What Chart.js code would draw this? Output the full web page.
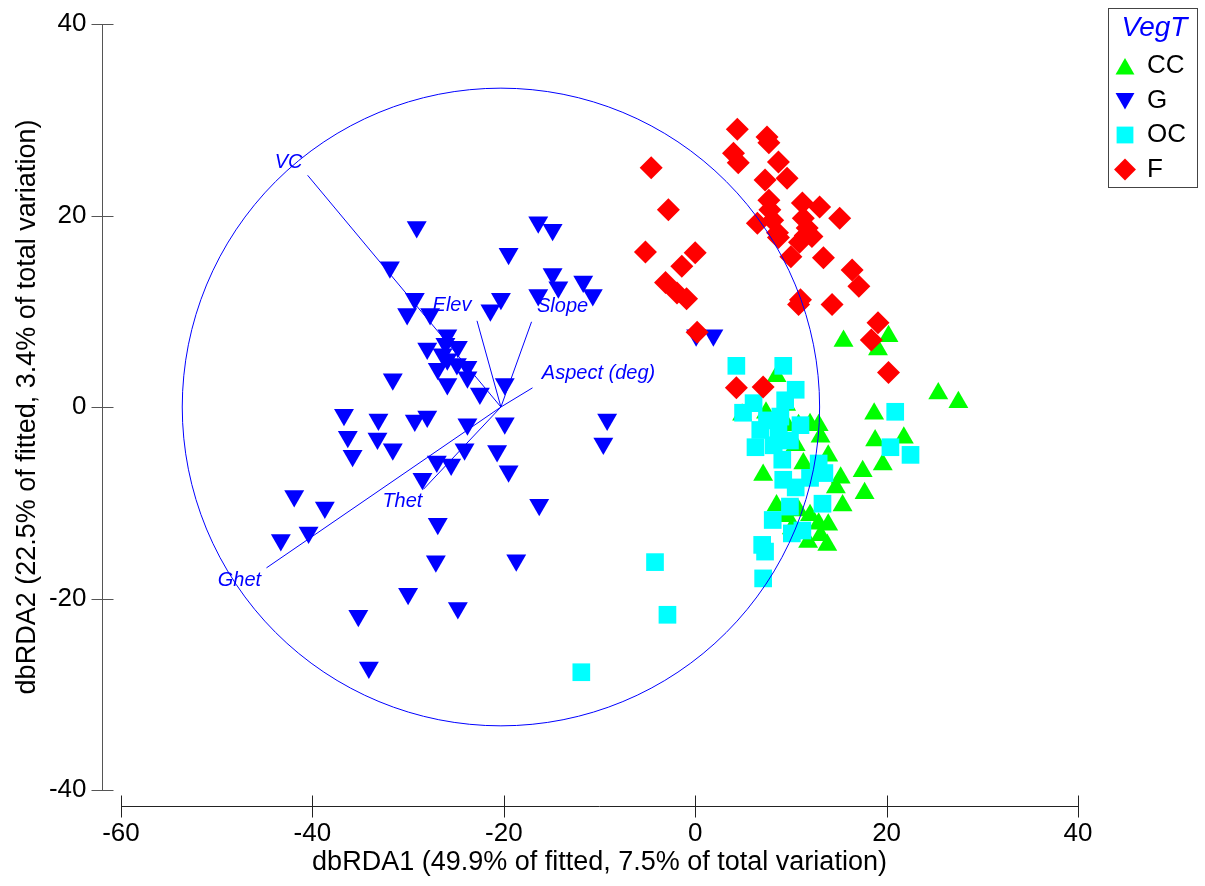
<!DOCTYPE html>
<html>
<head>
<meta charset="utf-8">
<title>dbRDA VegT</title>
<script src="https://cdn.jsdelivr.net/npm/chart.js@4.4.1/dist/chart.umd.min.js"></script>
<style>
  html, body { margin: 0; padding: 0; background: #fff; }
  #chart { display: block; }
</style>
</head>
<body>
<canvas id="chart" width="1205" height="886"></canvas>
<script>
'use strict';

// groups of VegT, in legend order
const groupNames = ['CC', 'G', 'OC', 'F'];

const ccX = [15.5, 20.2, 19.1, 8.5, 9.5, 4.9, 7.4, 9.6, 10.8, 12.0, 12.9, 8.9, 13.1, 10.5, 13.9, 18.7, 18.8, 21.8, 19.6, 17.5,
    17.7, 25.4, 27.5, 7.1, 14.7, 11.8, 15.4, 8.5, 9.6, 10.8, 12.0, 13.9, 12.9, 11.8, 13.8, 11.3, 10.1, 13.1, 15.2];
const ccY = [6.9, 7.4, 6.0, 3.2, 0.2, -0.8, -0.6, -1.9, -1.9, -1.8, -1.9, -2.5, -3.1, -4.0, -5.1, -0.7, -3.5, -3.2, -6.0, -6.7,
    -9.0, 1.4, 0.5, -7.1, -8.4, -7.6, -10.3, -10.3, -11.4, -10.8, -11.3, -12.3, -12.2, -14.1, -14.4, -5.9, -12.7, -13.4, -7.4];

const gX = [-29.1, -16.4, -14.9, -19.5, -31.9, -14.9, -14.3, -11.7, -10.7, -29.3, -30.1, -27.7, -20.3, -21.4, -16.4, -25.9,
    -26.1, -24.8, -28.0, -26.4, -25.9, -23.8, -24.9, -26.9, -23.8, -25.9, -22.5, -31.6, -19.9, -36.7, -33.1, -29.3, -28.0,
    -23.8, -19.9, -9.2, -36.3, -33.2, -31.6, -35.8, -24.1, -20.7, -9.6, -27.0, -25.5, -19.5, -28.5, -41.9, -38.7, -16.3,
    -26.9, -43.3, -40.4, -27.1, -18.7, -30.0, -24.8, -35.2, -34.1, 0.1, 1.9];
const gY = [18.8, 19.3, 18.5, 16.0, 14.6, 13.9, 12.5, 13.1, 11.7, 11.3, 9.7, 9.7, 11.3, 10.1, 11.7, 7.5, 6.6, 6.3, 6.1, 5.5,
    5.0, 4.2, 4.5, 4.0, 3.1, 2.4, 1.4, 2.9, 2.4, -0.8, -1.3, -1.4, -1.0, -1.8, -1.7, -1.3, -3.1, -3.3, -4.4, -5.1, -4.4, -4.6,
    -3.8, -5.7, -6.0, -6.7, -7.5, -9.3, -10.5, -10.2, -12.2, -13.9, -13.1, -16.1, -16.0, -19.5, -21.0, -21.8, -27.2, 7.5, 7.5];

const ocX = [4.3, 9.2, 10.5, 9.4, 6.1, 5.0, 7.5, 20.9, 6.3, 8.2, 9.1, 12.9, 13.5, 20.4, 22.5, 9.2, 10.5, 13.3, 9.9, 8.1,
    11.2, 10.1, 7.0, 7.3, 7.1, -4.2, -2.9, -11.9, 8.7, 9.9, 11.0, 6.8, 12.0, 8.9];
const ocY = [4.3, 4.3, 1.8, 0.7, 0.4, -0.6, -1.4, -0.5, -4.2, -4.0, -5.5, -5.9, -6.9, -4.2, -5.0, -7.6, -8.4, -10.1, -10.4,
    -11.8, -12.9, -13.2, -14.4, -15.1, -17.9, -16.2, -21.7, -27.7, -2.6, -3.5, -1.9, -2.4, -7.4, -1.0];

const fX = [4.4, 7.5, 7.7, 4.0, 4.5, -4.6, 8.7, 7.3, 9.6, -2.8, 7.7, 7.8, 11.2, 13.0, 15.1, 6.5, 8.1, 11.3, 8.6, 11.7, 8.7,
    10.9, 12.2, 11.5, 10.0, 13.4, -5.2, 0.0, -1.4, 16.4, 17.1, -3.1, -1.9, -0.9, 11.0, 10.8, 14.3, 19.1, 18.4, 0.2, 20.2, 4.3, 7.1];
const fY = [29.0, 28.2, 27.6, 26.5, 25.5, 25.0, 25.6, 23.7, 23.9, 20.6, 21.6, 20.6, 21.3, 20.9, 19.7, 19.2, 19.5, 19.7, 18.2,
    18.7, 17.7, 17.2, 17.8, 17.9, 15.7, 15.6, 16.2, 16.1, 14.7, 14.3, 12.6, 13.0, 11.9, 11.3, 11.2, 10.7, 10.7, 8.8, 7.0, 7.8,
    3.6, 2.0, 2.1];

// predictor vectors (start at the circle centre)
const vectorNames = ['VC', 'Elev', 'Slope', 'Aspect (deg)', 'Thet', 'Ghet'];
const vectorX = [-40.5, -22.8, -17.1, -17.0, -28.4, -44.8];
const vectorY = [24.2, 9.0, 8.9, 2.0, -8.6, -16.8];
const circleCentre = [-20.3, 0];
const circleRadius = 33.3;

const xTicks = [-60, -40, -20, 0, 20, 40];
const yTicks = [-40, -20, 0, 20, 40];
const xTitle = 'dbRDA1 (49.9% of fitted, 7.5% of total variation)';
const yTitle = 'dbRDA2 (22.5% of fitted, 3.4% of total variation)';
const legendTitle = 'VegT';

const BLUE = '#0000ff';
const FONT = '"Liberation Sans", Arial, sans-serif';

function toPoints(xs, ys) {
    return xs.map((x, i) => ({ x: x, y: ys[i] }));
}

// where each vector label sits, in pixels from the arrow end
const labelOffsets = {
    'VC': [-19, -13], 'Elev': [-25, -15], 'Slope': [31, -15],
    'Aspect (deg)': [66, -14], 'Thet': [-21, 12], 'Ghet': [-27, 13]
};

const groupStyles = {
    CC: { color: '#00ff00', pointStyle: 'triangle', radius: 11.5, rotation: 0 },
    G: { color: BLUE, pointStyle: 'triangle', radius: 11.5, rotation: 180 },
    OC: { color: '#00ffff', pointStyle: 'rect', radius: 12.5, rotation: 0 },
    F: { color: '#ff0000', pointStyle: 'rectRot', radius: 11.5, rotation: 0 }
};

function groupDataset(name, xs, ys) {
    const s = groupStyles[name];
    return {
        label: name,
        data: toPoints(xs, ys),
        pointStyle: s.pointStyle,
        pointRotation: s.rotation,
        pointRadius: s.radius,
        pointHoverRadius: s.radius,
        pointBackgroundColor: s.color,
        pointBorderWidth: 0,
        showLine: false,
    };
}

const vectorSets = vectorNames.map((name, i) => ({
    label: name,
    data: [{ x: circleCentre[0], y: circleCentre[1] }, { x: vectorX[i], y: vectorY[i] }],
    showLine: true,
    borderColor: BLUE,
    borderWidth: 1,
    pointRadius: 0,
    fill: false,
}));

const decorations = {
    id: 'decorations',
    afterDatasetsDraw(chart) {
        const ctx = chart.ctx;
        const xs = chart.scales.x, ys = chart.scales.y;
        ctx.save();
        // correlation circle
        const cx = xs.getPixelForValue(circleCentre[0]);
        const cy = ys.getPixelForValue(circleCentre[1]);
        const rx = xs.getPixelForValue(circleCentre[0] + circleRadius) - cx;
        const ry = cy - ys.getPixelForValue(circleCentre[1] + circleRadius);
        ctx.strokeStyle = BLUE;
        ctx.lineWidth = 1;
        ctx.beginPath();
        ctx.ellipse(cx, cy, rx, ry, 0, 0, Math.PI * 2);
        ctx.stroke();
        // vector labels
        ctx.fillStyle = BLUE;
        ctx.font = 'italic 20px ' + FONT;
        ctx.textAlign = 'center';
        ctx.textBaseline = 'middle';
        vectorNames.forEach((name, i) => {
            const off = labelOffsets[name];
            ctx.fillText(name, xs.getPixelForValue(vectorX[i]) + off[0], ys.getPixelForValue(vectorY[i]) + off[1]);
        });
        ctx.restore();
    },
    afterDraw(chart) {
        const ctx = chart.ctx;
        const xs = chart.scales.x, ys = chart.scales.y;
        const area = chart.chartArea;
        ctx.save();
        ctx.lineWidth = 1;

        // y axis, set off to the left of the plot
        const yAxisX = Math.round(area.left - 19) + 0.5;
        ctx.strokeStyle = '#555';
        ctx.beginPath();
        ctx.moveTo(yAxisX, ys.getPixelForValue(yTicks[0]));
        ctx.lineTo(yAxisX, ys.getPixelForValue(yTicks[yTicks.length - 1]));
        yTicks.forEach(t => {
            const py = Math.round(ys.getPixelForValue(t)) + 0.5;
            ctx.moveTo(yAxisX - 11, py);
            ctx.lineTo(yAxisX + 11, py);
        });
        ctx.stroke();

        // x axis, set off below the plot
        const xAxisY = Math.round(area.bottom + 16) + 0.5;
        ctx.strokeStyle = '#222';
        ctx.beginPath();
        ctx.moveTo(xs.getPixelForValue(xTicks[0]), xAxisY);
        ctx.lineTo(xs.getPixelForValue(xTicks[xTicks.length - 1]), xAxisY);
        xTicks.forEach(t => {
            const px = Math.round(xs.getPixelForValue(t)) + 0.5;
            ctx.moveTo(px, xAxisY - 11);
            ctx.lineTo(px, xAxisY + 11);
        });
        ctx.stroke();

        ctx.fillStyle = '#000';
        ctx.font = '26px ' + FONT;
        ctx.textBaseline = 'middle';
        ctx.textAlign = 'right';
        yTicks.forEach(t => ctx.fillText(String(t), yAxisX - 16, ys.getPixelForValue(t)));
        ctx.textAlign = 'center';
        xTicks.forEach(t => ctx.fillText(String(t), xs.getPixelForValue(t), xAxisY + 27));

        // axis titles
        ctx.font = '27px ' + FONT;
        ctx.fillText(xTitle, (area.left + area.right) / 2, xAxisY + 56);
        ctx.save();
        ctx.translate(28, (area.top + area.bottom) / 2);
        ctx.rotate(-Math.PI / 2);
        ctx.fillText(yTitle, 0, 0);
        ctx.restore();

        // legend box
        const lx = 1108, ly = 8, lw = 89, lh = 179;
        ctx.strokeStyle = '#444';
        ctx.strokeRect(lx + 0.5, ly + 0.5, lw, lh);
        ctx.fillStyle = BLUE;
        ctx.font = 'italic 28px ' + FONT;
        ctx.fillText(legendTitle, lx + lw / 2 + 2, ly + 20);
        ctx.font = '26px ' + FONT;
        ctx.textAlign = 'left';
        groupNames.forEach((name, i) => {
            const s = groupStyles[name];
            const rowY = ly + 58 + i * 34.5;
            ctx.fillStyle = s.color;
            Chart.helpers.drawPoint(ctx, {
                pointStyle: s.pointStyle, radius: s.radius * 0.95, rotation: s.rotation, borderWidth: 0
            }, lx + 17, rowY + (s.pointStyle === 'triangle' ? (s.rotation ? -2 : 3) : 0));
            ctx.fillStyle = '#000';
            ctx.fillText(name, lx + 39, rowY);
        });
        ctx.restore();
    }
};

const chart = new Chart(document.getElementById('chart'), {
    type: 'scatter',
    data: {
        datasets: vectorSets.concat([
            groupDataset('F', fX, fY),
            groupDataset('OC', ocX, ocY),
            groupDataset('CC', ccX, ccY),
            groupDataset('G', gX, gY),
        ]),
    },
    options: {
        responsive: false,
        animation: false,
        layout: { padding: { left: 121, right: 127, top: 24, bottom: 96 } },
        scales: {
            x: { type: 'linear', min: -60, max: 40, display: false },
            y: { type: 'linear', min: -40, max: 40, display: false },
        },
        plugins: {
            legend: { display: false },
            tooltip: { enabled: false },
        },
        elements: { point: { hitRadius: 0 } },
        clip: false,
    },
    plugins: [decorations],
});
</script>
</body>
</html>
